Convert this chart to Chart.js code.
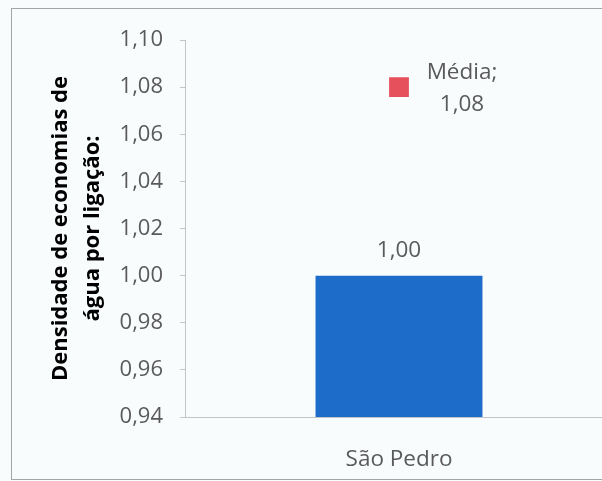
<!DOCTYPE html>
<html lang="pt-BR">
<head>
  <meta charset="UTF-8" />
  <title>Densidade de economias de água por ligação</title>
  <script src="https://cdn.jsdelivr.net/npm/chart.js"></script>
  <style>
    html, body { margin:0; padding:0; width:602px; height:481px; overflow:hidden; background:#f9fcfd; }
    .moldura { position:absolute; left:11px; top:8px; width:700px; height:470px;
               border:1px solid #a3a5a7; border-right:none; }
    .grafico { position:absolute; left:0; top:0; width:627px; height:481px; }
  </style>
</head>
<body>
  <div class="moldura"></div>
  <div class="grafico"><canvas id="densidadeChart" width="627" height="481"></canvas></div>

  <script>
    // Dados do gráfico
    const categorias = ['São Pedro'];
    const valoresMunicipio = [1.00];
    const valoresMedia = [1.08];
    const nomeMedia = 'Média';
    const ticksY = [0.94, 0.96, 0.98, 1.00, 1.02, 1.04, 1.06, 1.08, 1.10];
    const tituloY = ['Densidade de economias de', 'água por ligação:'];

    const fmt = v => v.toFixed(2).replace('.', ',');
    const FONTE = "'Open Sans', sans-serif";
    const CINZA = '#5a5a5a';

    // Rótulos de valor (barra e média)
    const rotulos = {
      id: 'rotulos',
      afterDatasetsDraw(chart) {
        const ctx = chart.ctx;
        ctx.save();
        ctx.fillStyle = CINZA;
        ctx.font = '22.5px ' + FONTE;
        ctx.textAlign = 'center';
        ctx.textBaseline = 'middle';

        chart.getDatasetMeta(0).data.forEach((bar, i) => {
          ctx.fillText(fmt(valoresMunicipio[i]), bar.x, bar.y - 25);
        });

        chart.getDatasetMeta(1).data.forEach((pt, i) => {
          ctx.fillText(nomeMedia + ';', pt.x + 63, pt.y - 15);
          ctx.fillText(fmt(valoresMedia[i]), pt.x + 63, pt.y + 17);
        });
        ctx.restore();
      }
    };

    new Chart(document.getElementById('densidadeChart'), {
      type: 'bar',
      data: {
        labels: categorias,
        datasets: [
          {
            label: 'São Pedro',
            data: valoresMunicipio,
            backgroundColor: '#1d6cca',
            barPercentage: 0.39,
            categoryPercentage: 1,
            order: 2
          },
          {
            type: 'line',
            label: nomeMedia,
            data: valoresMedia,
            showLine: false,
            pointStyle: 'rect',
            pointRadius: 14,
            pointHoverRadius: 14,
            pointBackgroundColor: '#e5505c',
            pointBorderWidth: 0,
            order: 1
          }
        ]
      },
      options: {
        responsive: false,
        animation: false,
        plugins: { legend: { display: false }, tooltip: { enabled: false } },
        layout: { padding: { left: 0, top: 40, right: 9, bottom: 0 } },
        scales: {
          x: {
            grid: { display: false },
            border: { display: true, color: '#c3c4c5' },
            ticks: { color: CINZA, font: { family: FONTE, size: 22.5 }, padding: 21 },
            afterFit: s => { s.height = 64; }
          },
          y: {
            min: ticksY[0],
            max: ticksY[ticksY.length - 1],
            afterBuildTicks: s => { s.ticks = ticksY.map(v => ({ value: v })); },
            grid: { drawOnChartArea: false, tickLength: 5, color: '#c3c4c5' },
            border: { display: true, color: '#c3c4c5' },
            ticks: {
              color: CINZA,
              font: { family: FONTE, size: 22 },
              padding: 17,
              callback: v => fmt(v)
            },
            title: {
              display: true,
              text: tituloY,
              color: '#000',
              font: { family: FONTE, size: 22, weight: 'bold', lineHeight: 1.45 },
              padding: { top: 45, bottom: 0 }
            },
            afterFit: s => { s.width = 185; }
          }
        }
      },
      plugins: [rotulos]
    });
  </script>
</body>
</html>
